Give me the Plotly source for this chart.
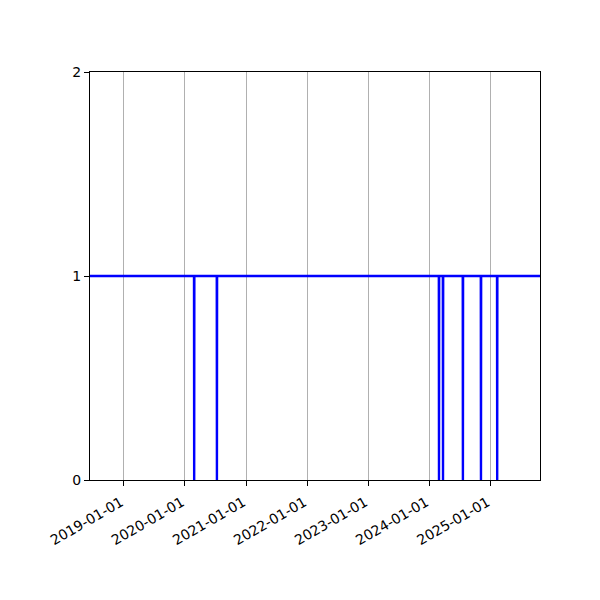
import plotly.graph_objects as go

# Series: status over time (1 = up, 0 = brief drop)
dates = [
    "2018-06-01",
    "2020-02-24", "2020-02-25", "2020-02-26",
    "2020-07-09", "2020-07-10", "2020-07-11",
    "2024-02-27", "2024-02-28", "2024-02-29",
    "2024-03-22", "2024-03-23", "2024-03-24",
    "2024-07-19", "2024-07-20", "2024-07-21",
    "2024-11-04", "2024-11-05", "2024-11-06",
    "2025-02-09", "2025-02-10", "2025-02-11",
    "2025-11-01",
]
values = [
    1,
    1, 0, 1,
    1, 0, 1,
    1, 0, 1,
    1, 0, 1,
    1, 0, 1,
    1, 0, 1,
    1, 0, 1,
    1,
]
x_ticks = ["2019-01-01", "2020-01-01", "2021-01-01", "2022-01-01",
           "2023-01-01", "2024-01-01", "2025-01-01"]
y_ticks = [0, 1, 2]
x_range = ["2018-06-12", "2025-10-24"]
y_range = [0, 2]

fig = go.Figure()
fig.add_trace(go.Scatter(
    x=dates, y=values, mode="lines",
    line=dict(color="#0000ff", width=2.4),
    showlegend=False, hoverinfo="skip",
))

axis_common = dict(
    showline=True, linecolor="black", linewidth=1, mirror=True,
    ticks="outside", ticklen=5, tickwidth=1, tickcolor="black",
    zeroline=False,
    tickfont=dict(family="DejaVu Sans", size=14, color="black"),
)

fig.update_xaxes(
    type="date", range=x_range,
    tickmode="array", tickvals=x_ticks, ticktext=x_ticks,
    tickangle=-30, ticklabelshift=-3, ticklabelstandoff=3,
    showgrid=True, gridcolor="#b0b0b0", gridwidth=1,
    **axis_common,
)
fig.update_yaxes(
    range=y_range, tickmode="array", tickvals=y_ticks,
    ticktext=[str(v) for v in y_ticks],
    showgrid=False,
    **axis_common,
)

fig.update_layout(
    width=600, height=600,
    margin=dict(l=82, r=68, t=64, b=128, autoexpand=False),
    paper_bgcolor="white", plot_bgcolor="white",
)

fig.write_html("out.html")
